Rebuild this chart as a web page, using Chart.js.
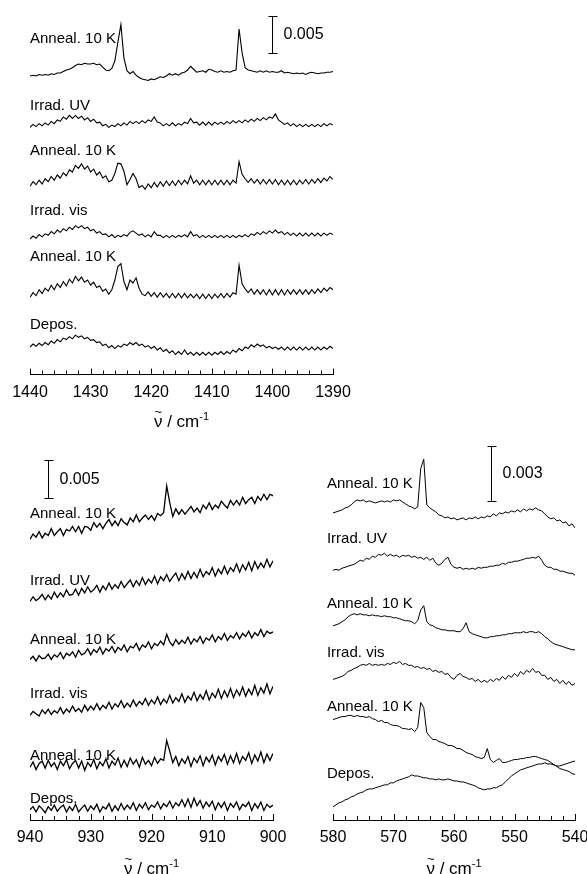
<!DOCTYPE html>
<html>
<head>
<meta charset="utf-8">
<script src="https://cdn.jsdelivr.net/npm/chart.js@4.4.1/dist/chart.umd.min.js"></script>
<style>
  html, body { margin: 0; padding: 0; background: #fff; overflow: hidden; width: 587px; height: 874px; }
  canvas { position: absolute; }
</style>
</head>
<body>
<canvas id="chartTop" width="360" height="432" style="left:0;top:0"></canvas>
<canvas id="chartLeft" width="300" height="440" style="left:0;top:440px"></canvas>
<canvas id="chartRight" width="310" height="440" style="left:300px;top:440px"></canvas>
<script>
// absorbance values in mAbs, one point every 0.5 cm-1 (high wavenumber first)
const traceNames = ['Anneal. 10 K', 'Irrad. UV', 'Anneal. 10 K', 'Irrad. vis', 'Anneal. 10 K', 'Depos.'];

// ---- 1440 - 1390 cm-1 ----
const topAnneal1 = [-0.4,-0.3,-0.4,-0.2,-0.3,-0.2,-0.3,-0.1,-0.2,0.0,
  0.0,0.2,0.4,0.5,0.7,1.0,1.2,1.1,1.3,1.2,
  1.2,1.3,1.1,1.2,0.8,0.4,0.3,0.6,1.6,4.1,
  6.5,2.0,0.3,-0.1,0.2,-0.3,-0.6,-0.8,-0.9,-1.0,
  -0.8,-0.9,-0.7,-0.5,-0.6,-0.4,-0.1,-0.3,-0.1,-0.3,
  0.0,0.1,0.4,0.9,0.5,0.1,0.2,0.3,0.1,0.5,
  0.4,0.2,0.1,0.3,0.1,0.2,0.1,0.3,0.4,5.9,
  2.7,0.7,0.4,0.3,0.2,0.1,0.3,0.1,0.3,0.1,
  0.2,0.1,0.1,0.3,0.0,0.1,0.0,-0.1,0.0,-0.1,
  0.0,-0.2,0.0,0.1,0.0,-0.1,0.0,0.0,0.1,0.1,0.2];
const topIrradUV = [-0.6,-0.2,-0.5,-0.1,-0.4,0.0,-0.3,0.2,-0.1,0.4,
  0.2,0.8,0.5,1.0,0.6,1.0,0.6,0.9,0.4,0.7,
  0.2,0.5,0.0,0.1,-0.4,-0.2,-0.6,-0.3,-0.5,-0.1,
  -0.4,0.0,-0.3,0.2,-0.1,0.2,-0.1,0.3,0.0,0.4,
  0.2,0.8,0.1,0.0,-0.4,-0.1,-0.4,0.0,-0.4,-0.1,
  -0.3,0.1,-0.1,0.6,0.0,0.1,-0.3,0.1,-0.3,0.1,
  -0.3,0.1,-0.2,0.1,-0.2,0.2,-0.1,0.3,0.0,0.3,
  0.0,0.4,0.1,0.5,0.2,0.6,0.3,0.7,0.4,0.8,
  0.6,1.2,0.4,0.1,-0.2,0.0,-0.4,-0.1,-0.5,-0.2,
  -0.5,-0.2,-0.5,-0.2,-0.5,-0.2,-0.5,-0.1,-0.4,-0.1,-0.3];
const topAnneal2 = [-0.6,0.0,-0.4,0.2,-0.3,0.4,0.0,0.7,0.2,0.9,
  0.5,1.2,0.8,1.6,1.3,2.2,1.8,2.4,1.7,2.1,
  1.3,1.7,0.9,1.3,0.5,0.8,0.0,0.2,1.1,2.5,
  2.4,1.4,-0.4,0.3,1.1,0.4,-0.8,-0.5,-1.0,-0.3,
  -0.8,-0.1,-0.7,0.0,-0.6,0.1,-0.5,0.1,-0.5,0.2,
  -0.4,0.2,-0.3,0.8,-0.2,0.2,-0.4,0.2,-0.4,0.2,
  -0.4,0.2,-0.4,0.2,-0.4,0.2,-0.4,0.2,-0.2,2.7,
  1.0,0.4,-0.1,0.4,-0.2,0.3,-0.3,0.3,-0.3,0.3,
  -0.3,0.3,-0.4,0.2,-0.4,0.2,-0.4,0.2,-0.4,0.2,
  -0.3,0.3,-0.3,0.3,-0.2,0.4,-0.1,0.5,0.1,0.7,0.3];
const topIrradVis = [-0.6,-0.2,-0.5,0.0,-0.3,0.1,-0.1,0.4,0.1,0.6,
  0.3,0.8,0.5,1.0,0.7,1.2,0.9,1.2,0.8,1.0,
  0.5,0.7,0.2,0.4,0.0,0.1,-0.3,0.0,-0.4,-0.1,
  -0.3,0.0,-0.2,0.3,0.5,0.2,-0.1,0.1,-0.3,0.0,
  -0.3,0.4,-0.1,-0.1,-0.4,-0.1,-0.4,-0.1,-0.4,-0.1,
  -0.3,0.0,-0.3,0.4,-0.2,0.0,-0.4,-0.1,-0.4,-0.1,
  -0.4,-0.1,-0.4,-0.1,-0.4,-0.1,-0.4,-0.1,-0.4,-0.1,
  -0.3,0.0,-0.3,0.1,-0.1,0.3,0.0,0.4,0.1,0.5,
  0.2,0.6,0.2,0.4,0.0,0.3,-0.1,0.2,-0.2,0.2,
  -0.2,0.2,-0.2,0.2,-0.2,0.2,-0.2,0.2,-0.1,0.2,0.0];
const topAnneal3 = [-0.7,-0.1,-0.5,0.3,-0.2,0.5,0.1,0.9,0.3,1.1,
  0.6,1.4,0.8,1.7,1.2,2.1,1.5,2.0,1.3,1.6,
  0.9,1.3,0.6,0.8,0.1,0.4,-0.3,0.3,1.6,3.4,
  3.8,1.4,0.3,1.6,1.2,1.9,0.5,-0.3,-0.5,0.0,
  -0.6,-0.1,-0.7,-0.1,-0.7,-0.2,-0.8,-0.2,-0.8,-0.2,
  -0.8,-0.2,-0.8,-0.3,-0.8,-0.3,-0.9,-0.3,-0.9,-0.3,
  -0.9,-0.3,-0.8,-0.2,-0.8,-0.2,-0.7,-0.1,-0.3,3.6,
  1.1,0.4,-0.1,0.4,-0.3,0.3,-0.3,0.3,-0.4,0.3,
  -0.4,0.3,-0.4,0.3,-0.4,0.3,-0.3,0.3,-0.3,0.3,
  -0.3,0.3,-0.3,0.3,-0.2,0.4,-0.1,0.5,0.1,0.6,0.3];
const topDepos = [-0.2,0.2,-0.1,0.3,0.0,0.4,0.1,0.6,0.3,0.8,
  0.5,1.0,0.8,1.2,0.9,1.4,1.1,1.3,0.9,1.1,
  0.7,0.8,0.4,0.5,0.0,0.2,-0.3,0.0,-0.4,0.0,
  -0.2,0.2,0.0,0.4,0.1,0.4,0.0,0.2,-0.2,0.0,
  -0.4,-0.1,-0.6,-0.3,-0.8,-0.5,-1.0,-0.7,-1.2,-0.8,
  -1.2,-0.6,-1.2,-0.9,-1.3,-0.9,-1.3,-0.9,-1.3,-0.9,
  -1.3,-0.9,-1.2,-0.8,-1.2,-0.8,-1.1,-0.6,-0.9,-0.4,
  -0.7,-0.2,-0.4,0.1,-0.2,0.2,-0.1,0.1,-0.3,-0.1,
  -0.4,-0.2,-0.5,-0.2,-0.6,-0.2,-0.6,-0.2,-0.6,-0.2,
  -0.6,-0.2,-0.6,-0.2,-0.6,-0.2,-0.6,-0.2,-0.5,-0.1,-0.4];

// ---- 940 - 900 cm-1 ----
const leftAnneal1 = [-0.3,0.4,0.0,0.7,-0.1,0.5,0.2,1.1,0.2,0.7,
  1.1,0.2,1.0,0.8,1.4,0.7,1.4,0.5,1.4,1.3,
  0.9,1.9,1.3,1.8,1.1,1.8,2.3,1.5,2.1,1.5,
  2.4,1.9,1.6,2.5,2.0,2.9,2.0,2.5,2.9,2.3,
  2.8,2.2,3.1,2.8,3.2,6.7,4.5,2.7,3.7,3.0,
  3.6,3.0,3.5,4.0,3.3,3.8,3.2,4.2,3.7,4.5,
  3.6,4.2,3.8,4.7,4.2,3.8,4.8,4.2,4.8,4.2,
  5.2,4.4,4.9,5.2,4.4,5.3,4.8,5.6,4.9,5.6,5.4];
const leftIrradUV = [-0.3,0.3,-0.2,0.1,0.6,-0.1,0.5,0.0,0.9,0.2,
  0.8,0.3,1.2,0.5,0.6,1.3,0.5,1.4,0.8,1.6,
  0.9,1.2,1.8,0.9,1.7,1.2,2.1,1.3,1.9,1.4,
  2.3,1.5,2.0,2.5,1.6,2.4,1.8,2.8,1.9,2.6,
  2.1,3.0,2.0,2.9,2.4,3.2,2.3,2.9,3.4,2.4,
  3.3,2.6,3.6,2.7,3.5,2.8,3.9,2.9,3.6,3.2,
  4.1,3.0,3.9,3.3,4.3,3.3,4.1,3.6,4.6,3.5,
  4.5,3.8,4.8,3.7,4.9,4.0,4.7,4.1,5.2,4.2,5.0];
const leftAnneal2 = [-0.1,0.3,-0.3,0.4,0.0,0.1,0.6,-0.1,0.5,0.2,
  0.8,0.0,0.7,0.4,0.9,0.2,1.1,0.5,0.7,1.3,
  0.5,1.2,0.8,1.5,0.6,1.3,1.0,1.6,0.8,1.5,
  1.1,1.8,0.9,1.6,1.4,2.0,1.1,1.8,1.5,2.2,
  1.3,2.0,1.7,2.3,1.8,3.2,2.2,1.7,2.5,1.9,
  2.4,2.0,2.8,1.9,2.6,2.2,2.9,2.0,2.7,2.4,
  3.1,2.2,2.9,2.5,3.3,2.4,3.0,2.7,3.4,2.6,
  3.3,2.9,3.6,2.7,3.4,3.0,3.8,2.9,3.6,3.3,3.5];
const leftIrradVis = [-0.2,0.3,0.0,-0.3,0.5,0.0,0.6,-0.1,0.4,0.1,
  0.8,0.0,0.6,0.2,1.0,0.3,0.7,0.2,1.1,0.4,
  1.0,0.5,1.3,0.5,1.1,0.7,1.5,0.6,1.3,0.9,
  1.7,0.8,1.4,0.9,1.8,1.0,1.6,1.2,2.0,1.1,
  1.8,1.3,2.2,1.2,1.9,1.4,2.4,1.4,2.1,1.6,
  2.6,1.5,2.3,1.8,2.8,1.7,2.5,1.9,3.0,1.8,
  2.7,2.1,3.2,2.0,3.0,2.2,3.3,2.1,3.1,2.4,
  3.5,2.3,3.2,2.5,3.7,2.4,3.4,2.7,3.9,2.6,3.6];
const leftAnneal3 = [-0.3,0.4,-0.6,0.2,0.5,-0.4,0.6,-0.2,0.3,-0.6,
  0.5,-0.1,0.7,-0.5,0.2,0.6,-0.4,0.5,-0.7,0.3,
  -0.2,0.7,-0.5,0.4,-0.1,0.8,-0.4,0.5,0.0,0.9,
  -0.3,0.6,-0.2,0.9,0.1,0.7,-0.3,1.0,0.1,0.6,
  -0.1,1.0,0.2,0.8,0.6,3.2,1.8,0.3,1.1,-0.1,
  0.8,0.2,1.1,-0.2,0.9,0.3,1.2,-0.1,1.0,0.4,
  1.3,0.0,1.1,0.5,1.4,0.1,1.2,0.3,1.5,0.2,
  1.1,0.6,1.6,0.2,1.3,0.5,1.7,0.3,1.4,0.6,1.5];
const leftDepos = [-0.1,0.3,-0.4,0.4,0.0,-0.5,0.3,-0.2,0.5,-0.3,
  0.2,0.5,-0.4,0.3,-0.2,0.6,-0.4,0.1,0.5,-0.3,
  0.4,-0.1,0.6,-0.4,0.3,0.0,0.7,-0.3,0.4,-0.2,
  0.7,-0.1,0.5,0.0,0.8,-0.2,0.6,0.1,0.8,-0.1,
  0.5,0.2,0.9,0.0,0.7,0.3,1.0,0.1,0.8,0.4,
  1.2,0.3,1.3,0.2,1.4,0.4,1.1,0.1,0.9,0.3,
  1.0,-0.1,0.8,0.2,0.9,-0.2,0.7,0.2,0.9,-0.1,
  0.6,0.3,0.9,-0.2,0.7,0.1,0.9,-0.2,0.6,0.2,0.5];

// ---- 580 - 540 cm-1 ----
const rightAnneal1 = [0.00,0.05,0.11,0.16,0.27,0.32,0.43,0.59,0.70,0.65,
  0.70,0.59,0.65,0.59,0.54,0.59,0.65,0.59,0.65,0.59,
  0.70,0.65,0.70,0.59,0.49,0.38,0.32,0.22,0.32,2.40,
  2.90,0.43,0.27,0.16,0.05,-0.11,-0.16,-0.27,-0.22,-0.32,
  -0.27,-0.38,-0.32,-0.27,-0.38,-0.27,-0.32,-0.22,-0.32,-0.22,
  -0.27,-0.16,-0.22,-0.05,-0.16,0.00,-0.05,0.05,0.00,0.11,
  0.05,0.16,0.05,0.22,0.11,0.22,0.16,0.27,0.16,0.11,
  -0.05,-0.22,-0.32,-0.27,-0.43,-0.38,-0.54,-0.49,-0.70,-0.59,-0.81];
const rightIrradUV = [0.00,0.05,0.00,0.11,0.16,0.22,0.27,0.32,0.43,0.54,
  0.49,0.65,0.59,0.76,0.70,0.86,0.81,0.92,0.76,0.86,
  0.76,0.81,0.70,0.81,0.76,0.81,0.70,0.76,0.65,0.70,
  0.59,0.70,0.54,0.65,0.38,0.27,0.38,0.59,0.70,0.32,
  0.16,0.11,0.16,0.05,0.11,0.05,0.11,0.05,0.16,0.11,
  0.16,0.16,0.22,0.22,0.27,0.27,0.38,0.32,0.43,0.43,
  0.49,0.49,0.54,0.59,0.65,0.65,0.70,0.65,0.76,0.54,
  0.27,0.16,0.16,0.05,0.05,-0.05,-0.05,-0.11,-0.16,-0.16,-0.27];
const rightAnneal2 = [0.00,0.05,0.11,0.22,0.32,0.49,0.59,0.65,0.59,0.65,
  0.59,0.59,0.54,0.59,0.54,0.54,0.49,0.54,0.49,0.49,
  0.43,0.43,0.38,0.32,0.27,0.27,0.22,0.11,0.27,0.86,
  1.08,0.22,0.05,0.00,-0.11,-0.16,-0.22,-0.22,-0.27,-0.27,
  -0.27,-0.32,-0.32,-0.16,0.16,-0.32,-0.43,-0.49,-0.54,-0.59,
  -0.65,-0.65,-0.59,-0.59,-0.54,-0.54,-0.49,-0.49,-0.43,-0.43,
  -0.38,-0.38,-0.38,-0.32,-0.38,-0.32,-0.32,-0.38,-0.32,-0.43,
  -0.59,-0.70,-0.86,-0.97,-1.03,-1.08,-1.13,-1.19,-1.24,-1.30,-1.30];
const rightIrradVis = [0.00,0.05,0.11,0.16,0.27,0.43,0.49,0.59,0.65,0.76,
  0.81,0.76,0.86,0.76,0.81,0.76,0.81,0.76,0.86,0.81,
  0.92,0.86,0.97,0.81,0.86,0.76,0.76,0.65,0.70,0.59,
  0.65,0.54,0.59,0.43,0.49,0.38,0.43,0.27,0.32,0.11,
  0.00,0.22,0.32,0.16,0.11,0.00,0.05,-0.11,0.00,-0.16,
  -0.05,-0.16,0.00,-0.11,0.05,-0.05,0.16,0.00,0.22,0.11,
  0.32,0.16,0.43,0.27,0.49,0.38,0.59,0.38,0.43,0.22,
  0.22,0.00,0.11,-0.11,0.00,-0.22,-0.05,-0.27,-0.11,-0.32,-0.22];
const rightAnneal3 = [0.00,0.05,0.11,0.16,0.16,0.22,0.22,0.16,0.22,0.16,
  0.16,0.11,0.16,0.05,0.00,-0.11,-0.05,-0.16,-0.16,-0.27,
  -0.32,-0.32,-0.38,-0.49,-0.49,-0.54,-0.49,-0.65,-0.43,0.92,
  0.65,-0.70,-0.92,-1.08,-1.08,-1.19,-1.24,-1.30,-1.40,-1.40,
  -1.46,-1.57,-1.57,-1.67,-1.78,-1.84,-1.89,-2.00,-2.05,-2.11,
  -2.05,-1.57,-2.16,-2.32,-2.21,-2.11,-2.32,-2.32,-2.27,-2.21,
  -2.16,-2.16,-2.11,-2.11,-2.05,-2.05,-2.00,-2.00,-2.05,-2.11,
  -2.16,-2.21,-2.32,-2.43,-2.54,-2.65,-2.70,-2.75,-2.81,-2.92,-2.97];
const rightDepos = [0.00,0.11,0.22,0.27,0.38,0.43,0.54,0.59,0.70,0.76,
  0.81,0.92,0.97,0.97,1.03,1.08,1.13,1.19,1.19,1.30,
  1.30,1.40,1.46,1.51,1.57,1.62,1.73,1.67,1.67,1.62,
  1.57,1.57,1.51,1.51,1.46,1.51,1.46,1.46,1.51,1.46,
  1.40,1.40,1.35,1.35,1.30,1.24,1.19,1.13,1.03,0.97,
  0.92,0.97,0.97,1.03,1.03,1.13,1.19,1.35,1.51,1.67,
  1.78,1.89,2.00,2.05,2.11,2.16,2.21,2.27,2.32,2.32,
  2.38,2.32,2.32,2.27,2.21,2.21,2.27,2.32,2.38,2.43,2.48];

// vertical stacking of the traces (mAbs) and label heights above each trace
const topOffsets = [40.5, 33.8, 25.9, 18.8, 11.1, 3.9];
const topLabelDy = [4.6, 2.3, 4.1, 3.2, 4.7, 2.8];
const leftOffsets = [37.0, 28.9, 21.1, 13.9, 7.2, 1.45];
const leftLabelDy = [3.0, 2.4, 2.4, 2.6, 1.2, 1.3];
const rightOffsets = [16.6, 13.5, 10.5, 7.6, 5.43, 0.71];
const rightLabelDy = [1.58, 1.68, 1.2, 1.41, 0.71, 1.79];

const FONT = 'Arial, "Liberation Sans", sans-serif';

const waveGrid = (from, to) => {
    const out = [];
    for (let w = from; w >= to - 1e-9; w -= 0.5) out.push(+w.toFixed(1));
    return out;
};

// ticks pointing inward, axis title, trace labels and the scale bar
const stackPlugin = {
    id: 'stack',
    afterDraw(chart, args, opts) {
        const ctx = chart.ctx;
        const xs = chart.scales.x;
        const ys = chart.scales.y;
        const bottom = chart.chartArea.bottom;
        ctx.save();
        ctx.strokeStyle = '#000';
        ctx.fillStyle = '#000';
        ctx.lineWidth = 1;
        for (let v = xs.min; v <= xs.max + 0.001; v += 2) {
            const px = Math.round(xs.getPixelForValue(v)) + 0.5;
            const major = Math.abs(v % 10) < 0.001;
            ctx.beginPath();
            ctx.moveTo(px, bottom);
            ctx.lineTo(px, bottom - (major ? 6 : 4));
            ctx.stroke();
        }

        // axis title: nu with tilde, "/ cm" and superscript -1
        const ty = xs.bottom - 10;
        ctx.textBaseline = 'alphabetic';
        ctx.font = '17px ' + FONT;
        const wNu = ctx.measureText('ν').width;
        const wMid = ctx.measureText(' / cm').width;
        ctx.font = '11px ' + FONT;
        const wSup = ctx.measureText('-1').width;
        let tx = (chart.chartArea.left + chart.chartArea.right) / 2 - (wNu + wMid + wSup) / 2;
        const base = ty + 6;
        ctx.font = '17px ' + FONT;
        ctx.fillText('ν', tx, base);
        ctx.font = '13px ' + FONT;
        ctx.textAlign = 'center';
        ctx.fillText('~', tx + wNu / 2, base - 11);
        ctx.textAlign = 'left';
        ctx.font = '17px ' + FONT;
        ctx.fillText(' / cm', tx + wNu, base);
        ctx.font = '11px ' + FONT;
        ctx.fillText('-1', tx + wNu + wMid, base - 7);

        ctx.font = '15px ' + FONT;
        ctx.textBaseline = 'middle';
        opts.names.forEach((t, i) => {
            ctx.fillText(t, xs.getPixelForValue(opts.labelX), ys.getPixelForValue(opts.offsets[i] + opts.labelDy[i]));
        });

        const bx = Math.round(xs.getPixelForValue(opts.bar.x)) + 0.5;
        const y0 = Math.round(ys.getPixelForValue(opts.bar.from)) + 0.5;
        const y1 = Math.round(ys.getPixelForValue(opts.bar.to)) + 0.5;
        ctx.beginPath();
        ctx.moveTo(bx, y0); ctx.lineTo(bx, y1);
        ctx.moveTo(bx - 4, y0); ctx.lineTo(bx + 5, y0);
        ctx.moveTo(bx - 4, y1); ctx.lineTo(bx + 5, y1);
        ctx.stroke();
        ctx.font = '16px ' + FONT;
        ctx.fillText(opts.bar.text, bx + 11, (y0 + y1) / 2);
        ctx.restore();
    }
};

const makePanel = (id, panel) => {
    const waves = waveGrid(panel.max, panel.min);
    const datasets = panel.series.map((s, i) => ({
        data: waves.map((w, j) => ({ x: w, y: s[j] + panel.offsets[i] })),
        borderColor: '#000',
        borderWidth: panel.lineWidth,
        pointRadius: 0,
        tension: 0,
        fill: false
    }));

    return new Chart(document.getElementById(id), {
        type: 'line',
        data: { datasets },
        plugins: [stackPlugin],
        options: {
            responsive: false,
            animation: false,
            events: [],
            layout: { padding: panel.padding },
            plugins: {
                legend: { display: false },
                tooltip: { enabled: false },
                stack: {
                    names: traceNames,
                    offsets: panel.offsets,
                    labelDy: panel.labelDy,
                    labelX: panel.labelX,
                    bar: panel.bar
                }
            },
            scales: {
                x: {
                    type: 'linear',
                    reverse: true,
                    min: panel.min,
                    max: panel.max,
                    ticks: {
                        stepSize: 10, color: '#000', font: { family: FONT, size: 16 }, padding: 8,
                        maxRotation: 0, autoSkip: false,
                        callback: v => String(v)
                    },
                    grid: { display: false, drawTicks: false },
                    border: { display: true, color: '#000', width: 1 },
                    // space for the title; the visible title is drawn by the plugin
                    title: {
                        display: true,
                        text: 'v / cm-1',
                        color: 'rgba(0,0,0,0)',
                        font: { family: FONT, size: 16 },
                        padding: { top: panel.titlePad, bottom: 0 }
                    }
                },
                y: { display: false, min: 0, max: panel.yMax }
            }
        }
    });
};

makePanel('chartTop', {
    min: 1390, max: 1440, yMax: 50.3,
    series: [topAnneal1, topIrradUV, topAnneal2, topIrradVis, topAnneal3, topDepos],
    offsets: topOffsets, labelDy: topLabelDy, labelX: 1440,
    bar: { x: 1400, from: 43.2, to: 48.2, text: '0.005' },
    padding: { left: 30, right: 27, top: 0, bottom: 1 },
    titlePad: 2, lineWidth: 1.1
});

makePanel('chartLeft', {
    min: 900, max: 940, yMax: 49.7,
    series: [leftAnneal1, leftIrradUV, leftAnneal2, leftIrradVis, leftAnneal3, leftDepos],
    offsets: leftOffsets, labelDy: leftLabelDy, labelX: 940,
    bar: { x: 937, from: 42.1, to: 47.1, text: '0.005' },
    padding: { left: 30, right: 27, top: 0, bottom: 1.6 },
    titlePad: 4, lineWidth: 1.3
});

makePanel('chartRight', {
    min: 540, max: 580, yMax: 20.54,
    series: [rightAnneal1, rightIrradUV, rightAnneal2, rightIrradVis, rightAnneal3, rightDepos],
    offsets: rightOffsets, labelDy: rightLabelDy, labelX: 581,
    bar: { x: 553.9, from: 17.23, to: 20.23, text: '0.003' },
    padding: { left: 33, right: 35, top: 0, bottom: 1.6 },
    titlePad: 4, lineWidth: 1
});
</script>
</body>
</html>
